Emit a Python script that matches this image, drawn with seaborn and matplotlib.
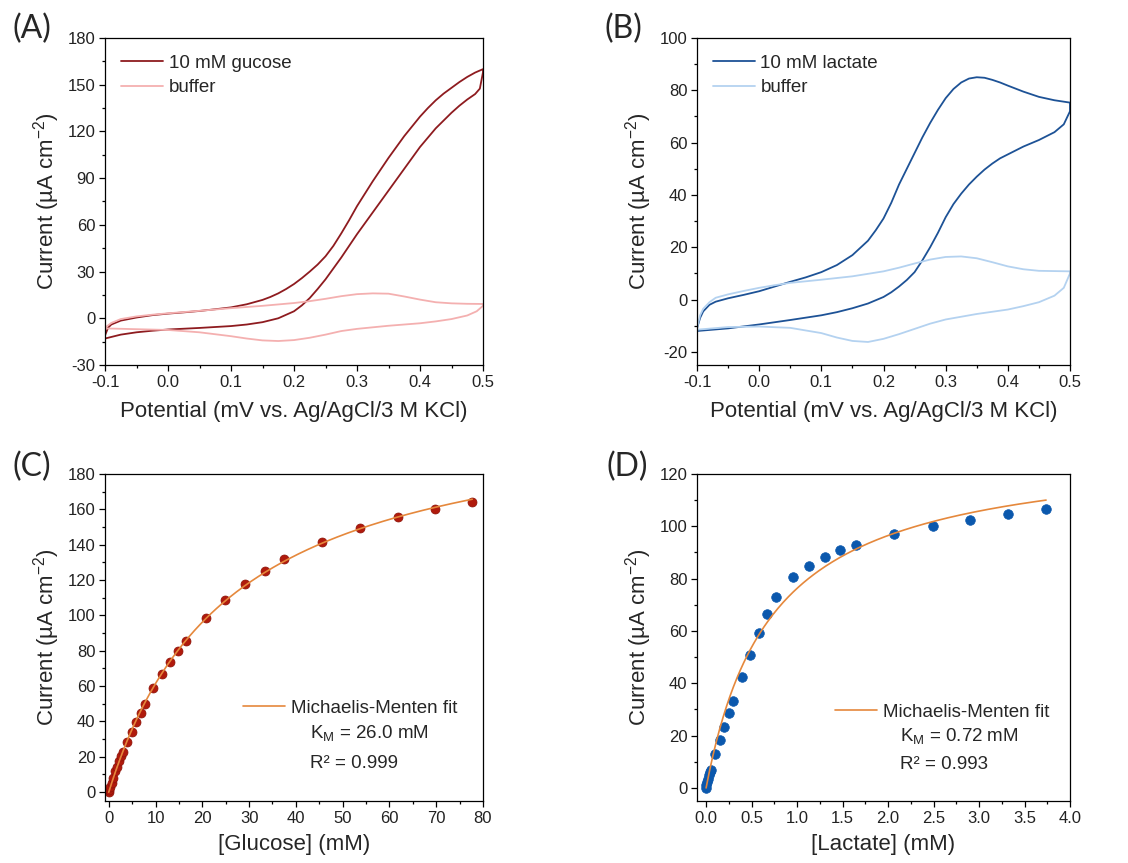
import numpy as np
import pandas as pd
import matplotlib
matplotlib.use("Agg")
import matplotlib.pyplot as plt
from matplotlib.ticker import MultipleLocator, AutoMinorLocator
import seaborn as sns

# ---- (A) glucose CV ----
cv_a_lower_x = [-0.1, -0.075, -0.05, -0.025, 0.0, 0.05, 0.1, 0.125, 0.15, 0.175, 0.2, 0.2125, 0.225,
                0.2375, 0.25, 0.275, 0.3, 0.325, 0.35, 0.375, 0.4, 0.425, 0.45, 0.4625, 0.475,
                0.4875, 0.495, 0.5]
cv_a_lower_y = [-13, -10.5, -9, -8, -7.2, -6.2, -5, -4, -2.5, 0, 4.5, 8.3, 13,
                18.8, 25, 39, 54, 68, 82, 96, 110, 122, 132, 136.5, 140.5,
                144, 147.5, 158]
cv_a_upper_x = [-0.1, -0.095, -0.09, -0.075, -0.05, -0.025, 0.0, 0.025, 0.05, 0.075, 0.1, 0.125, 0.15,
                0.1625, 0.175, 0.1875, 0.2, 0.2125, 0.225, 0.2375, 0.25, 0.2625, 0.275, 0.2875, 0.3,
                0.325, 0.35, 0.375, 0.4, 0.4125, 0.425, 0.4375, 0.45, 0.4625, 0.475, 0.4875, 0.5]
cv_a_upper_y = [-11, -6, -4, -1.5, 0.5, 2, 3, 3.8, 4.7, 5.8, 7, 9, 11.8,
                13.7, 16, 18.8, 22, 25.8, 30, 34.5, 39.8, 46.5, 54.5, 63, 72,
                88, 103, 117, 129.5, 135, 140, 144.3, 148, 151.7, 155, 157.8, 160]

buf_a_lower_x = [-0.1, -0.05, 0.0, 0.05, 0.1, 0.125, 0.15, 0.175, 0.2, 0.225, 0.25, 0.275, 0.3,
                 0.35, 0.4, 0.425, 0.45, 0.475, 0.49, 0.5]
buf_a_lower_y = [-6.5, -7, -7.5, -9, -11.5, -13, -14.2, -14.6, -14, -12.5, -10.5, -8.2, -6.8,
                 -4.8, -3.2, -2, -0.5, 1.8, 4.5, 8]
buf_a_upper_x = [-0.1, -0.09, -0.075, -0.05, -0.025, 0.0, 0.05, 0.1, 0.15, 0.2, 0.225, 0.25, 0.275,
                 0.3, 0.325, 0.35, 0.375, 0.4, 0.425, 0.45, 0.475, 0.5]
buf_a_upper_y = [-6, -3, -0.5, 1.2, 2.3, 3.2, 4.8, 6.5, 8, 9.8, 11, 12.5, 14.2,
                 15.5, 16, 15.8, 14, 12, 10.3, 9.6, 9.3, 9.2]

# ---- (B) lactate CV ----
cv_b_lower_x = [-0.1, -0.05, 0.0, 0.05, 0.1, 0.125, 0.15, 0.175, 0.2, 0.2125, 0.225, 0.2375, 0.25,
                0.2625, 0.275, 0.2875, 0.3, 0.3125, 0.325, 0.3375, 0.35, 0.3625, 0.375, 0.3875,
                0.4, 0.425, 0.45, 0.475, 0.49, 0.5]
cv_b_lower_y = [-12, -11, -9.5, -7.8, -6, -4.8, -3.3, -1.5, 1, 2.8, 5, 7.5, 10.5,
                15, 20, 25.5, 31.5, 36.5, 40.5, 44, 47, 49.7, 52, 54,
                55.5, 58.5, 61, 64, 67, 72]
cv_b_upper_x = [-0.1, -0.095, -0.09, -0.08, -0.07, -0.05, -0.025, 0.0, 0.025, 0.05, 0.075, 0.1,
                0.125, 0.15, 0.175, 0.1875, 0.2, 0.2125, 0.225, 0.2375, 0.25, 0.2625, 0.275, 0.2875,
                0.3, 0.3125, 0.325, 0.3375, 0.35, 0.3625, 0.375, 0.3875, 0.4, 0.425, 0.45, 0.475, 0.5]
cv_b_upper_y = [-11, -7, -4.5, -2, -0.8, 0.5, 1.8, 3.2, 5, 6.8, 8.5, 10.5,
                13.2, 17, 22.5, 26.5, 31, 37, 44, 50, 56, 62, 67.5, 72.5,
                77, 80.5, 83, 84.5, 85, 84.8, 84, 83, 81.8, 79.5, 77.5, 76.2, 75.3]

buf_b_lower_x = [-0.1, -0.05, 0.0, 0.05, 0.1, 0.125, 0.15, 0.175, 0.2, 0.225, 0.25, 0.275, 0.3,
                 0.35, 0.4, 0.425, 0.45, 0.475, 0.49, 0.5]
buf_b_lower_y = [-11.5, -10.5, -10.3, -10.8, -12.8, -14.5, -15.8, -16.2, -15, -13.2, -11.2, -9.2, -7.6,
                 -5.5, -3.8, -2.5, -1, 1.5, 4.5, 10]
buf_b_upper_x = [-0.1, -0.095, -0.09, -0.08, -0.07, -0.05, -0.025, 0.0, 0.025, 0.05, 0.1, 0.15,
                 0.2, 0.225, 0.25, 0.275, 0.3, 0.325, 0.35, 0.375, 0.4, 0.425, 0.45, 0.5]
buf_b_upper_y = [-11, -6, -3.5, -1, 0.7, 2, 3.3, 4.5, 5.5, 6.4, 7.6, 8.9,
                 10.8, 12.2, 13.8, 15.3, 16.3, 16.5, 15.8, 14.3, 12.7, 11.6, 11, 10.8]

# ---- (C) glucose calibration ----
glucose_mM = [0, 0.14, 0.36, 0.64, 1.0, 1.35, 1.7, 2.2, 2.6, 3.0, 3.9, 4.9, 5.8, 6.8, 7.8, 9.5,
              11.4, 13.0, 14.8, 16.5, 20.7, 24.9, 29.1, 33.3, 37.4, 45.6, 53.7, 61.9, 69.8, 77.7]
glucose_I = [0, 1.3, 3.2, 5.1, 7.9, 11.7, 14.5, 17.4, 20.2, 22.5, 28.3, 34, 39.6, 44.7, 49.8, 58.9,
             66.8, 73.6, 80, 85.7, 98.5, 108.9, 117.9, 125.3, 131.9, 141.7, 149.4, 155.7, 160.2, 164]
KM_GLUCOSE = 26.0

# ---- (D) lactate calibration ----
lactate_mM = [0, 0.004, 0.011, 0.022, 0.033, 0.044, 0.055, 0.099, 0.150, 0.198, 0.249, 0.293,
              0.392, 0.487, 0.582, 0.673, 0.769, 0.952, 1.127, 1.303, 1.475, 1.643, 2.068,
              2.489, 2.906, 3.323, 3.737]
lactate_I = [0, 1.0, 2.3, 3.6, 4.9, 6.1, 7.0, 12.8, 18.5, 23.4, 28.5, 33.2,
             42.5, 50.7, 59.2, 66.6, 72.9, 80.8, 85.0, 88.4, 91.0, 93.0, 97.1,
             100.1, 102.4, 104.7, 106.6]
KM_LACTATE = 0.72

RED_DARK = "#8e1b1f"
RED_LIGHT = "#f4b0b0"
BLUE_DARK = "#1d5296"
BLUE_LIGHT = "#b4d2f0"
FIT = "#e5883c"

sns.set_style("ticks")
plt.rcParams["font.family"] = ["Liberation Sans", "DejaVu Sans"]
plt.rcParams["mathtext.fontset"] = "custom"
plt.rcParams["mathtext.rm"] = "Liberation Sans"
plt.rcParams["mathtext.it"] = "Liberation Sans:italic"
plt.rcParams["axes.unicode_minus"] = False
plt.rcParams["axes.linewidth"] = 0.9
plt.rcParams["axes.edgecolor"] = "black"

fig = plt.figure(figsize=(11.28, 8.63), dpi=100)
W, H = 1128, 863
LEG_FS = 13.5


def add_ax(x0, y0, x1, y1):
    return fig.add_axes([x0 / W, 1 - y1 / H, (x1 - x0) / W, (y1 - y0) / H])


def loop(lx, ly, ux, uy):
    # forward sweep along the lower branch, back along the upper one
    return pd.DataFrame({"E": list(lx) + list(ux[::-1]), "I": list(ly) + list(uy[::-1])})


def style(ax, xmaj, ymaj):
    ax.xaxis.set_major_locator(MultipleLocator(xmaj))
    ax.yaxis.set_major_locator(MultipleLocator(ymaj))
    ax.xaxis.set_minor_locator(AutoMinorLocator(2))
    ax.yaxis.set_minor_locator(AutoMinorLocator(2))
    ax.tick_params(which="major", direction="out", length=4, width=0.9, labelsize=12, color="black",
                   labelcolor="#222222", pad=3)
    ax.tick_params(which="minor", direction="out", length=2.5, width=0.9, color="black")
    for s in ax.spines.values():
        s.set_visible(True)
        s.set_color("black")
    ax.set_ylabel("Current (µA cm$^{-2}$)", fontsize=16, labelpad=4)


def mm(c, km, vmax):
    c = np.asarray(c, dtype=float)
    return vmax * c / (km + c)


# (A)
axA = add_ax(105, 38, 483, 365)
sns.lineplot(data=loop(cv_a_lower_x, cv_a_lower_y, cv_a_upper_x, cv_a_upper_y), x="E", y="I",
             sort=False, estimator=None, color=RED_DARK, lw=1.3, ax=axA, label="10 mM gucose")
sns.lineplot(data=loop(buf_a_lower_x, buf_a_lower_y, buf_a_upper_x, buf_a_upper_y), x="E", y="I",
             sort=False, estimator=None, color=RED_LIGHT, lw=1.3, ax=axA, label="buffer")
axA.set_xlim(-0.1, 0.5)
axA.set_ylim(-30, 180)
style(axA, 0.1, 30)
axA.set_xlabel("Potential (mV vs. Ag/AgCl/3 M KCl)", fontsize=16, labelpad=8)

# (B)
axB = add_ax(697, 38, 1070, 365)
sns.lineplot(data=loop(cv_b_lower_x, cv_b_lower_y, cv_b_upper_x, cv_b_upper_y), x="E", y="I",
             sort=False, estimator=None, color=BLUE_DARK, lw=1.3, ax=axB, label="10 mM lactate")
sns.lineplot(data=loop(buf_b_lower_x, buf_b_lower_y, buf_b_upper_x, buf_b_upper_y), x="E", y="I",
             sort=False, estimator=None, color=BLUE_LIGHT, lw=1.3, ax=axB, label="buffer")
axB.set_xlim(-0.1, 0.5)
axB.set_ylim(-25, 100)
style(axB, 0.1, 20)
axB.set_xlabel("Potential (mV vs. Ag/AgCl/3 M KCl)", fontsize=16, labelpad=8)

for ax in (axA, axB):
    ax.legend(loc="center left", bbox_to_anchor=(0.042, 0.885), frameon=False, fontsize=LEG_FS,
              handlelength=2.25, handletextpad=0.3, labelspacing=0.38, borderaxespad=0, borderpad=0)

# (C)
axC = add_ax(105, 474, 483, 801)
sns.scatterplot(x=glucose_mM, y=glucose_I, color="#b01a0c", edgecolor="#8c1208", linewidth=0.5,
                s=42, ax=axC, zorder=2)
f = np.asarray(glucose_mM) / (KM_GLUCOSE + np.asarray(glucose_mM))
vmax_c = np.dot(f, glucose_I) / np.dot(f, f)
cfit = np.linspace(0, max(glucose_mM), 200)
sns.lineplot(x=cfit, y=mm(cfit, KM_GLUCOSE, vmax_c), color=FIT, lw=1.2, ax=axC, zorder=3,
             label="Michaelis-Menten fit")
axC.set_xlim(-0.8, 80)
axC.set_ylim(-5, 180)
style(axC, 10, 20)
axC.set_xlabel("[Glucose] (mM)", fontsize=16, labelpad=6)

# (D)
axD = add_ax(697, 474, 1070, 801)
sns.scatterplot(x=lactate_mM, y=lactate_I, color="#0b58ad", edgecolor="#0b58ad", linewidth=0.5,
                s=48, ax=axD, zorder=2)
f = np.asarray(lactate_mM) / (KM_LACTATE + np.asarray(lactate_mM))
vmax_d = np.dot(f, lactate_I) / np.dot(f, f)
lfit = np.linspace(0, max(lactate_mM), 200)
sns.lineplot(x=lfit, y=mm(lfit, KM_LACTATE, vmax_d), color=FIT, lw=1.2, ax=axD, zorder=3,
             label="Michaelis-Menten fit")
axD.set_xlim(-0.1, 4.0)
axD.set_ylim(-5, 120)
style(axD, 0.5, 20)
axD.set_xlabel("[Lactate] (mM)", fontsize=16, labelpad=6)

axC.legend(loc="center left", bbox_to_anchor=(0.365, 0.284), frameon=False, fontsize=LEG_FS,
           handlelength=2.25, handletextpad=0.3, borderaxespad=0, borderpad=0)
axD.legend(loc="center left", bbox_to_anchor=(0.37, 0.272), frameon=False, fontsize=LEG_FS,
           handlelength=2.25, handletextpad=0.3, borderaxespad=0, borderpad=0)
axC.text(0.542, 0.208, "K$_\\mathrm{M}$ = %.1f mM" % KM_GLUCOSE, transform=axC.transAxes,
         fontsize=LEG_FS, va="center", ha="left")
axC.text(0.542, 0.116, "R² = 0.999", transform=axC.transAxes, fontsize=LEG_FS, va="center", ha="left")
axD.text(0.544, 0.199, "K$_\\mathrm{M}$ = %.2f mM" % KM_LACTATE, transform=axD.transAxes,
         fontsize=LEG_FS, va="center", ha="left")
axD.text(0.544, 0.113, "R² = 0.993", transform=axD.transAxes, fontsize=LEG_FS, va="center", ha="left")

# panel letters
for lab, x, y in [("(A)", 12, 29), ("(B)", 605, 29), ("(C)", 12, 467), ("(D)", 607, 467)]:
    fig.text(x / W, 1 - y / H, lab, fontsize=23, family=["Lato", "DejaVu Sans"], va="center", ha="left")

fig.savefig("out.png", dpi=100)
